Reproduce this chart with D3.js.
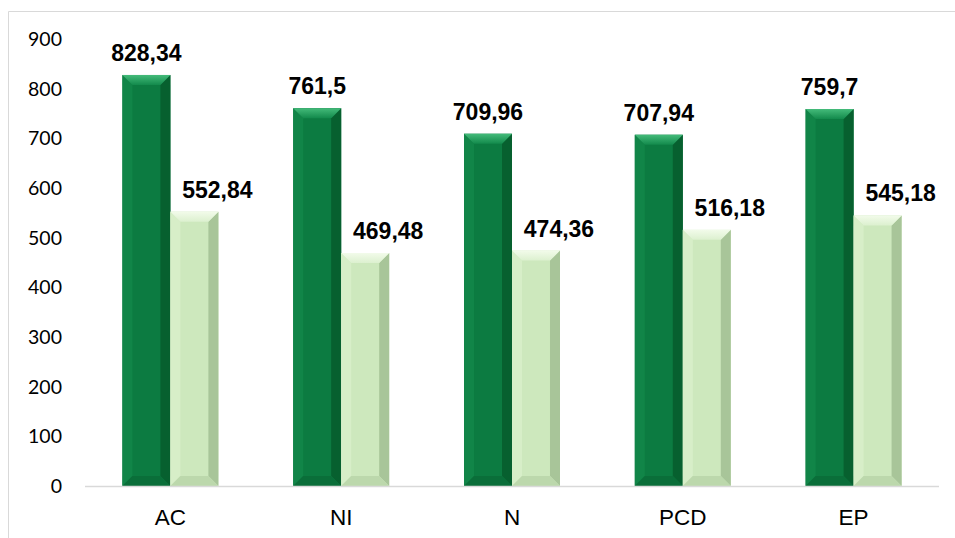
<!DOCTYPE html>
<html>
<head>
<meta charset="utf-8">
<script src="https://cdn.jsdelivr.net/npm/d3@7"></script>
<style>
  body { margin: 0; background: #fff; }
</style>
</head>
<body>
<script>
// categories and the two series
var categories = ["AC", "NI", "N", "PCD", "EP"];
var darkValues = [828.34, 761.5, 709.96, 707.94, 759.7];
var lightValues = [552.84, 469.48, 474.36, 516.18, 545.18];
var valueLabels1 = ["828,34", "761,5", "709,96", "707,94", "759,7"];
var valueLabels2 = ["552,84", "469,48", "474,36", "516,18", "545,18"];
var yTicks = [0, 100, 200, 300, 400, 500, 600, 700, 800, 900];

var W = 955, H = 538;
// note: "top" is taken by window.top, so plot edges get their own names
var plotLeft = 85, plotRight = 939, plotTop = 39.4, plotBottom = 486;

var svg = d3.select("body").append("svg")
  .attr("width", W)
  .attr("height", H);

// chart frame (only top and left edge show)
svg.append("path")
  .attr("d", "M8.5,538 L8.5,11.5 L955,11.5")
  .attr("fill", "none")
  .attr("stroke", "#d9d9d9")
  .attr("stroke-width", 1);

var x = d3.scaleBand()
  .domain(categories)
  .range([plotLeft, plotRight])
  .paddingInner(0.438)
  .paddingOuter(0.219);

var sub = d3.scaleBand()
  .domain(["dark", "light"])
  .range([0, x.bandwidth()]);

var y = d3.scaleLinear()
  .domain([0, 900])
  .range([plotBottom, plotTop]);

// y tick labels
svg.append("g").selectAll("text")
  .data(yTicks)
  .enter()
  .append("text")
  .attr("x", 62)
  .attr("y", function (d) { return y(d); })
  .attr("dy", "0.35em")
  .attr("text-anchor", "end")
  .attr("font-family", "Lato, 'Open Sans', sans-serif")
  .attr("font-size", 19.5)
  .attr("fill", "#000")
  .text(function (d) { return d; });

// the light series labels sit a bit to the right of their bars in the original
var series = [
  { key: "dark", values: darkValues, labels: valueLabels1, labelDx: 0,
    main: "#0c7b41", top1: "#44bb7a", top2: "#138a4c", leftc: "#118548", rightc: "#07602f", bottomc: "#0a6e39" },
  { key: "light", values: lightValues, labels: valueLabels2, labelDx: 23,
    main: "#cde8bd", top1: "#f2fbea", top2: "#dcf0cf", leftc: "#d7eec8", rightc: "#a8c599", bottomc: "#bcd8ac" }
];

var defs = svg.append("defs");
series.forEach(function (s) {
  var gr = defs.append("linearGradient")
    .attr("id", "top-" + s.key)
    .attr("x1", 0).attr("y1", 0).attr("x2", 0).attr("y2", 1);
  gr.append("stop").attr("offset", "0%").attr("stop-color", s.top1);
  gr.append("stop").attr("offset", "100%").attr("stop-color", s.top2);
});

var bev = 10;

function pts(arr) {
  return arr.map(function (p) { return p.join(","); }).join(" ");
}

series.forEach(function (s) {
  var g = svg.append("g");
  categories.forEach(function (c, i) {
    var x0 = x(c) + sub(s.key);
    var x1 = x0 + sub.bandwidth();
    var y0 = y(s.values[i]);
    var y1 = y(0);
    var b = Math.min(bev, (y1 - y0) / 2);
    var bar = g.append("g");
    bar.append("rect")
      .attr("x", x0).attr("y", y0)
      .attr("width", x1 - x0).attr("height", y1 - y0)
      .attr("fill", s.main);
    // bevel faces
    bar.append("polygon")
      .attr("points", pts([[x0, y0], [x0 + b, y0 + b], [x0 + b, y1 - b], [x0, y1]]))
      .attr("fill", s.leftc);
    bar.append("polygon")
      .attr("points", pts([[x1, y0], [x1 - b, y0 + b], [x1 - b, y1 - b], [x1, y1]]))
      .attr("fill", s.rightc);
    bar.append("polygon")
      .attr("points", pts([[x0, y1], [x0 + b, y1 - b], [x1 - b, y1 - b], [x1, y1]]))
      .attr("fill", s.bottomc);
    bar.append("polygon")
      .attr("points", pts([[x0, y0], [x1, y0], [x1 - b, y0 + b], [x0 + b, y0 + b]]))
      .attr("fill", "url(#top-" + s.key + ")");
    // value label
    svg.append("text")
      .attr("x", (x0 + x1) / 2 + s.labelDx)
      .attr("y", y0 - 14)
      .attr("text-anchor", "middle")
      .attr("font-family", "'Liberation Sans', Arial, sans-serif")
      .attr("font-weight", "bold")
      .attr("font-size", 23)
      .attr("fill", "#000")
      .text(s.labels[i]);
  });
});

// baseline
svg.append("line")
  .attr("x1", plotLeft).attr("x2", plotRight)
  .attr("y1", plotBottom + 0.5).attr("y2", plotBottom + 0.5)
  .attr("stroke", "#d9d9d9")
  .attr("stroke-width", 1.5);

// category labels
svg.append("g").selectAll("text")
  .data(categories)
  .enter()
  .append("text")
  .attr("x", function (d) { return x(d) + x.bandwidth() / 2; })
  .attr("y", 525)
  .attr("text-anchor", "middle")
  .attr("font-family", "'Liberation Sans', Arial, sans-serif")
  .attr("font-size", 22.5)
  .attr("fill", "#000")
  .text(function (d) { return d; });
</script>
</body>
</html>
